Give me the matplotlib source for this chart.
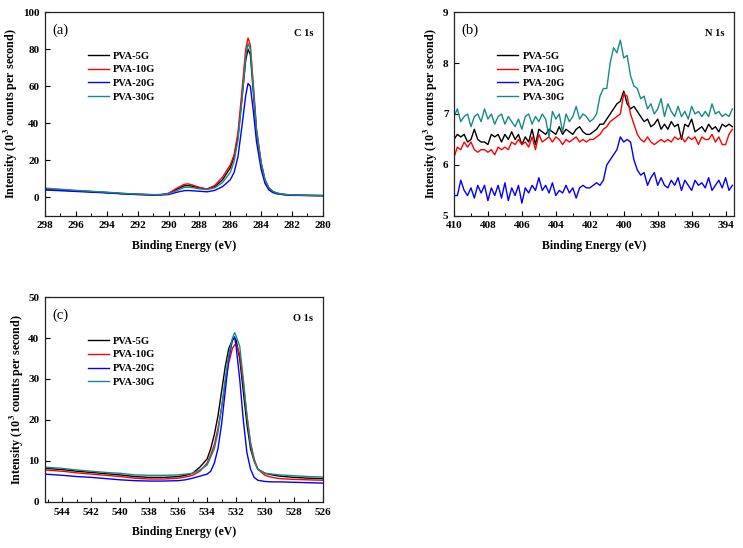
import numpy as np
import matplotlib
matplotlib.use("Agg")
import matplotlib.pyplot as plt
from matplotlib.ticker import MultipleLocator

plt.rcParams['font.family'] = ['Liberation Serif', 'DejaVu Serif']
plt.rcParams['font.weight'] = 'bold'
plt.rcParams['mathtext.fontset'] = 'stix'

labels = ['PVA-5G', 'PVA-10G', 'PVA-20G', 'PVA-30G']
colors = ['#000000', '#ff0000', '#0000ff', '#168a8a']

# ---- C 1s ----
c_energy = [298, 297, 296, 295, 294, 293, 292, 291, 290.5, 290, 289.5, 289, 288.75, 288.5,
            288, 287.5, 287, 286.5, 286, 285.75, 285.5, 285.25, 285, 284.85, 284.7, 284.5,
            284.3, 284, 283.75, 283.5, 283.25, 283, 282.5, 282, 281, 280]
c_5g = [4.3, 3.9, 3.5, 3.1, 2.6, 2.1, 1.7, 1.4, 1.5, 2.1, 4.2, 6.2, 6.4, 6.1, 5.1, 4.5, 5.8, 9.5,
        16, 22, 33, 53, 74, 80, 77, 56, 35, 18, 9, 5, 3.2, 2.3, 1.6, 1.3, 1.1, 1.0]
c_10g = [4.6, 4.1, 3.6, 3.1, 2.6, 2.0, 1.6, 1.3, 1.4, 2.2, 4.8, 7.0, 7.3, 6.8, 5.4, 4.5, 6.5, 11,
         17.5, 23, 35, 57, 80, 86, 82, 60, 37, 19, 9.5, 5, 3.2, 2.2, 1.5, 1.2, 1.0, 0.9]
c_20g = [4.0, 3.6, 3.2, 2.8, 2.4, 1.9, 1.5, 1.3, 1.3, 1.5, 2.7, 3.6, 3.7, 3.6, 3.3, 3.0, 3.8, 5.8,
         9.5, 13.5, 22, 38, 55, 61.5, 60, 46, 30, 15, 7.5, 4.0, 2.6, 1.9, 1.4, 1.1, 1.0, 0.9]
c_30g = [5.0, 4.4, 3.8, 3.3, 2.8, 2.2, 1.8, 1.5, 1.5, 1.9, 3.5, 5.3, 5.5, 5.3, 4.6, 4.2, 5.2, 8.0,
         13.5, 19.5, 31, 52, 76, 83, 80, 58, 36, 18.5, 9.5, 5.2, 3.3, 2.3, 1.6, 1.3, 1.1, 1.0]

# ---- N 1s (0.2 eV steps from 410.0 down to 393.6) ----
n_energy = np.round(np.arange(410.0, 393.5, -0.2), 1)
n_5g = [6.5, 6.6, 6.55, 6.6, 6.45, 6.5, 6.7, 6.5, 6.45, 6.45,
        6.4, 6.6, 6.55, 6.6, 6.45, 6.6, 6.5, 6.65, 6.5, 6.6,
        6.4, 6.55, 6.45, 6.7, 6.4, 6.7, 6.65, 6.6, 6.7, 6.65,
        6.6, 6.75, 6.6, 6.7, 6.65, 6.6, 6.7, 6.75, 6.65, 6.6,
        6.6, 6.65, 6.7, 6.8, 6.8, 6.9, 7.0, 7.1, 7.2, 7.25,
        7.45, 7.2, 7.1, 7.15, 7.05, 6.95, 6.85, 6.9, 6.75, 6.8,
        6.9, 6.7, 6.8, 6.7, 6.85, 6.75, 6.8, 6.5, 6.8, 6.75,
        6.9, 6.65, 6.7, 6.75, 6.65, 6.8, 6.7, 6.75, 6.65, 6.8,
        6.75, 6.8, 6.75]
n_10g = [6.15, 6.35, 6.3, 6.45, 6.35, 6.45, 6.3, 6.25, 6.3, 6.3,
         6.25, 6.3, 6.2, 6.35, 6.3, 6.35, 6.3, 6.45, 6.4, 6.5,
         6.4, 6.45, 6.35, 6.55, 6.3, 6.6, 6.45, 6.5, 6.55, 6.45,
         6.55, 6.5, 6.4, 6.5, 6.45, 6.5, 6.55, 6.45, 6.5, 6.45,
         6.5, 6.5, 6.55, 6.6, 6.7, 6.75, 6.85, 6.9, 6.95, 7.0,
         7.4, 7.35, 7.0, 6.8, 6.6, 6.5, 6.45, 6.55, 6.45, 6.4,
         6.45, 6.5, 6.45, 6.5, 6.45, 6.55, 6.5, 6.55, 6.45, 6.55,
         6.5, 6.55, 6.4, 6.55, 6.5, 6.5, 6.6, 6.45, 6.55, 6.4,
         6.4, 6.6, 6.7]
n_20g = [5.4, 5.4, 5.7, 5.5, 5.4, 5.55, 5.35, 5.6, 5.45, 5.6,
         5.3, 5.55, 5.4, 5.6, 5.35, 5.65, 5.3, 5.55, 5.4, 5.6,
         5.25, 5.55, 5.45, 5.6, 5.5, 5.75, 5.5, 5.6, 5.45, 5.65,
         5.4, 5.5, 5.45, 5.6, 5.45, 5.55, 5.35, 5.55, 5.6, 5.55,
         5.55, 5.6, 5.65, 5.6, 5.7, 6.0, 6.1, 6.2, 6.3, 6.55,
         6.45, 6.5, 6.45, 6.1, 5.9, 5.8, 5.85, 5.6, 5.75, 5.85,
         5.6, 5.75, 5.6, 5.55, 5.7, 5.6, 5.75, 5.5, 5.7, 5.6,
         5.5, 5.7, 5.6, 5.65, 5.55, 5.75, 5.5, 5.6, 5.7, 5.55,
         5.75, 5.5, 5.6]
n_30g = [6.95, 7.1, 6.85, 6.95, 7.0, 6.75, 6.95, 7.0, 6.85, 7.1,
         6.9, 7.0, 6.8, 6.95, 7.0, 6.8, 6.95, 6.85, 6.75, 6.9,
         6.7, 6.95, 7.0, 6.8, 6.95, 6.85, 7.0, 6.9, 6.55, 7.05,
         6.9, 7.0, 6.65, 7.0, 6.85, 6.95, 7.15, 6.9, 7.0, 6.95,
         6.85, 6.9, 7.0, 7.35, 7.5, 7.5, 8.0, 8.3, 8.2, 8.45,
         8.1, 8.15, 7.75, 7.55, 7.5, 7.3, 7.35, 7.1, 7.2, 7.0,
         7.1, 7.3, 6.95, 7.2, 7.05, 6.95, 7.15, 6.95, 7.05, 6.9,
         7.15, 7.0, 7.05, 6.95, 7.05, 6.95, 7.2, 7.0, 7.05, 6.95,
         7.0, 6.95, 7.1]

# ---- O 1s ----
o_energy = [545.2, 544, 543, 542, 541, 540, 539, 538, 537, 536, 535.5, 535, 534.5, 534,
            533.75, 533.5, 533.25, 533, 532.75, 532.5, 532.25, 532.1, 532, 531.75, 531.5,
            531.25, 531, 530.75, 530.5, 530, 529.5, 529, 528, 527, 526]
o_5g = [8.2, 7.9, 7.5, 7.2, 6.9, 6.6, 6.2, 6.0, 6.0, 6.2, 6.5, 7.0, 8.5, 10.5, 13, 16.5, 21,
        27, 33, 37.5, 39.5, 40, 39.5, 35, 27, 19, 13, 10, 8, 7, 6.6, 6.3, 6.0, 5.8, 5.7]
o_10g = [7.8, 7.5, 7.1, 6.8, 6.5, 6.2, 5.8, 5.6, 5.6, 5.8, 6.1, 6.5, 7.5, 9.5, 11.5, 14, 18,
         23, 29, 34, 37.5, 38.3, 38.5, 36, 29, 21, 14.5, 10.5, 8, 6.5, 6.0, 5.7, 5.5, 5.4, 5.3]
o_20g = [6.8, 6.5, 6.2, 6.0, 5.7, 5.4, 5.2, 5.1, 5.1, 5.2, 5.4, 5.8, 6.3, 6.8, 7.5, 9.5, 13,
         19, 27, 35, 39.5, 40.3, 38, 30, 20, 12, 8, 6, 5.3, 5.0, 4.9, 4.9, 4.8, 4.7, 4.6]
o_30g = [8.5, 8.2, 7.8, 7.5, 7.2, 7.0, 6.6, 6.5, 6.5, 6.6, 6.8, 7.0, 7.8, 9.0, 11, 13, 17,
         23, 30, 36, 40, 41.3, 40.5, 38, 30, 21, 14, 10, 8, 7.0, 6.8, 6.6, 6.4, 6.2, 6.1]

fig = plt.figure(figsize=(7.43, 5.48), dpi=100)

panels = [
    ([0.0606, 0.606, 0.374, 0.372], c_energy, [c_5g, c_10g, c_20g, c_30g],
     (298, 280), (-10, 100), 20, '(a)', 'C 1s'),
    ([0.611, 0.606, 0.377, 0.372], n_energy, [n_5g, n_10g, n_20g, n_30g],
     (410, 393.5), (5, 9), 1, '(b)', 'N 1s'),
    ([0.0606, 0.084, 0.374, 0.374], o_energy, [o_5g, o_10g, o_20g, o_30g],
     (545.2, 526), (0, 50), 10, '(c)', 'O 1s'),
]

for rect, xe, series, xl, yl, ystep, tag, name in panels:
    ax = fig.add_axes(rect)
    for ys, lab, col in zip(series, labels, colors):
        ax.plot(xe, ys, color=col, lw=1.0, label=lab)
    ax.set_xlim(*xl)
    ax.set_ylim(*yl)
    ax.xaxis.set_major_locator(MultipleLocator(2))
    ax.xaxis.set_minor_locator(MultipleLocator(1))
    ax.yaxis.set_major_locator(MultipleLocator(ystep))
    ax.tick_params(direction='in', labelsize=8, length=3.5, width=0.8, pad=4)
    ax.tick_params(which='minor', direction='in', length=2, width=0.7)
    for lbl in ax.get_xticklabels() + ax.get_yticklabels():
        lbl.set_fontweight('bold')
    for sp in ax.spines.values():
        sp.set_linewidth(0.9)
        sp.set_color('#222222')
    ax.set_xlabel('Binding Energy (eV)', fontsize=8.5, fontweight='bold', labelpad=7)
    ax.set_ylabel(r'Intensity (10$^{\mathbf{3}}$ counts per second)', fontsize=8.7,
                  fontweight='bold', labelpad=2)
    ax.text(0.025, 0.945, tag, transform=ax.transAxes, fontsize=10.5, fontweight='normal',
            va='top', ha='left')
    ax.text(0.965, 0.915, name, transform=ax.transAxes, fontsize=7.5, fontweight='bold',
            va='top', ha='right')
    ax.legend(loc='upper left', bbox_to_anchor=(0.12, 0.855), frameon=False,
              handlelength=2.0, handletextpad=0.4, labelspacing=0.42,
              prop={'weight': 'bold', 'size': 7.6})

plt.savefig('out.png', dpi=100)
